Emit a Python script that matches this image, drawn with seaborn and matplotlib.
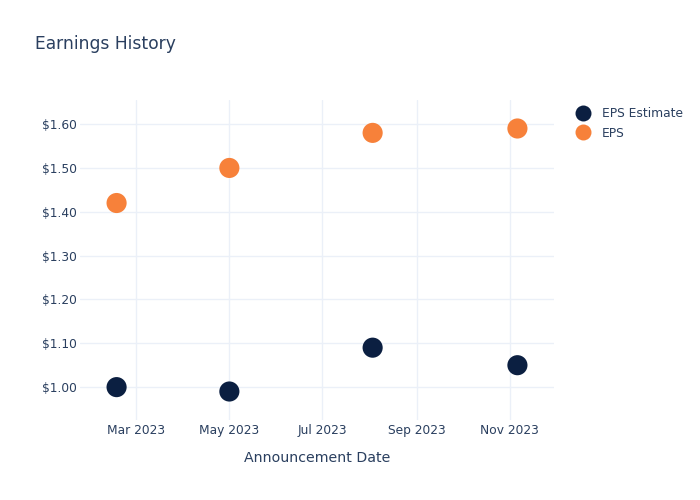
import matplotlib
matplotlib.use("Agg")
import matplotlib.pyplot as plt
import matplotlib.dates as mdates
import seaborn as sns
import pandas as pd

dates = ["2023-02-16", "2023-05-01", "2023-08-03", "2023-11-06"]
eps_estimate = [1.00, 0.99, 1.09, 1.05]
eps_actual = [1.42, 1.50, 1.58, 1.59]
series_names = ["EPS Estimate", "EPS"]
colors = ["#0b1f41", "#f7813a"]

df = pd.DataFrame({
    "date": pd.to_datetime(dates * 2),
    "value": eps_estimate + eps_actual,
    "series": [series_names[0]] * len(dates) + [series_names[1]] * len(dates),
})

sns.set_theme(style="white")
plt.rcParams["font.family"] = ["DejaVu Sans"]
text_color = "#2a3f5f"
grid_color = "#ebf0f8"

fig = plt.figure(figsize=(7, 5), dpi=100)
ax = fig.add_axes([80 / 700, 1 - 420 / 500, (554 - 80) / 700, 320 / 500])

sns.scatterplot(data=df, x="date", y="value", hue="series", hue_order=series_names,
                palette=colors, s=210, linewidth=0, edgecolor="none", ax=ax, zorder=3,
                legend=False)

ax.set_xlim(pd.Timestamp("2023-01-23"), pd.Timestamp("2023-11-30"))
ax.set_ylim(0.925, 1.655)
ax.xaxis.set_major_locator(mdates.MonthLocator(bymonth=[3, 5, 7, 9, 11]))
ax.xaxis.set_major_formatter(mdates.DateFormatter("%b %Y"))
ax.set_yticks([1.0, 1.1, 1.2, 1.3, 1.4, 1.5, 1.6])
ax.yaxis.set_major_formatter(matplotlib.ticker.FuncFormatter(lambda v, p: f"${v:.2f}"))
ax.grid(True, color=grid_color, linewidth=1)
ax.set_axisbelow(True)
for s in ax.spines.values():
    s.set_visible(False)
ax.tick_params(axis="both", length=0, labelsize=8.8, colors=text_color)
ax.tick_params(axis="y", pad=2)
ax.tick_params(axis="x", pad=3)
ax.set_xlabel("Announcement Date", fontsize=10.2, color=text_color, labelpad=10)
ax.set_ylabel("")

fig.text(35 / 700, 1 - 44 / 500, "Earnings History", fontsize=12.3, color=text_color,
         va="center", ha="left")

handles = [plt.Line2D([], [], marker="o", linestyle="", markersize=11.5,
                      markerfacecolor=c, markeredgewidth=0) for c in colors]
fig.legend(handles, series_names, loc="upper left", bbox_to_anchor=(571 / 700, 1 - 102 / 500),
           frameon=False, fontsize=8.8, labelcolor=text_color, handletextpad=0.9,
           labelspacing=0.55, borderaxespad=0, handlelength=1.2)

fig.savefig("out.png", dpi=100, facecolor="white")
